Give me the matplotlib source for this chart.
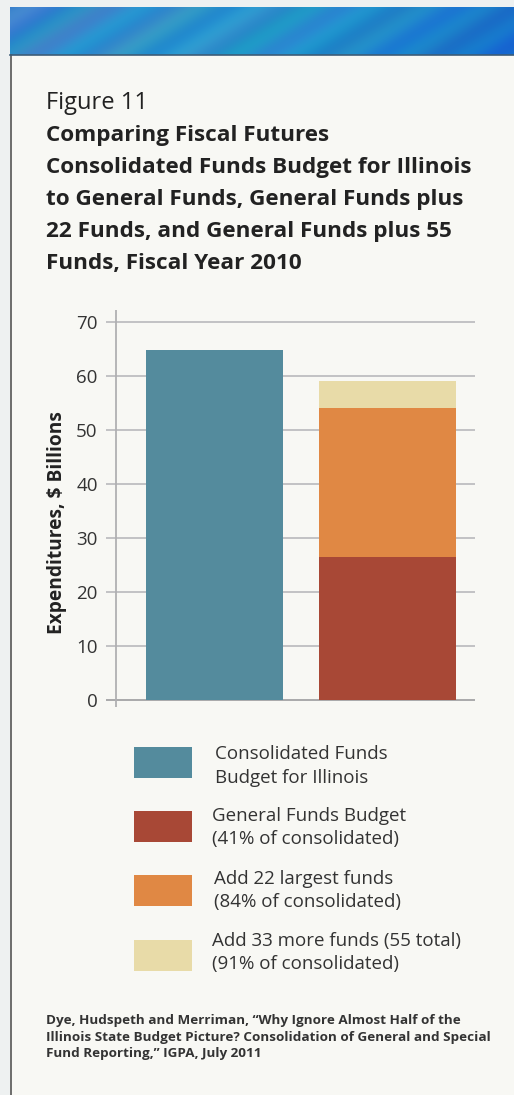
import numpy as np
import matplotlib
matplotlib.use("Agg")
import matplotlib.pyplot as plt
from matplotlib.patches import Rectangle

plt.rcParams['font.family'] = ['Open Sans', 'DejaVu Sans']

# ---- data ----
bar_labels = ["Consolidated", "General plus funds"]
consolidated = [64.8]
general_funds = [26.5]
add_22 = [27.5]
add_33 = [5.0]
yticks = [0, 10, 20, 30, 40, 50, 60, 70]
legend_labels = ["Consolidated Funds\nBudget for Illinois",
                 "General Funds Budget\n(41% of consolidated)",
                 "Add 22 largest funds\n(84% of consolidated)",
                 "Add 33 more funds (55 total)\n(91% of consolidated)"]
colors = ["#548b9d", "#a84836", "#e08844", "#e8dba8"]

W, H = 514, 1095
fig = plt.figure(figsize=(W / 100, H / 100), dpi=100)
fig.patch.set_facecolor("#eef1f1")

# background decoration axes in pixel coordinates
bg = fig.add_axes([0, 0, 1, 1])
bg.set_xlim(0, W)
bg.set_ylim(H, 0)
bg.axis("off")
# panel
bg.add_patch(Rectangle((10, 55), W - 10, H - 55, facecolor="#f8f8f4", edgecolor="none"))
bg.plot([10.5, 10.5], [55, H], color="#555555", lw=1.2)
# banner gradient with diagonal streaks
nx, ny = 512, 50
xx, yy = np.meshgrid(np.linspace(0, 1, nx), np.linspace(0, 1, ny))
t = xx + 0.15 * yy
base = np.stack([
    0.22 - 0.12 * t + 0.05 * np.sin(40 * t) * (1 - xx),
    0.50 + 0.08 * np.sin(3.0 * t) - 0.06 * xx ** 3 + 0.03 * np.sin(55 * t),
    0.80 + 0.02 * np.sin(30 * t)], axis=-1)
base = np.clip(base, 0, 1)
bg.imshow(base, extent=(10, W, 55, 7), aspect="auto", interpolation="bilinear", zorder=1)
bg.plot([10, W], [55, 55], color="#3d5d78", lw=1.2, zorder=2)
bg.set_xlim(0, W)
bg.set_ylim(H, 0)

# titles
bg.text(46, 103, "Figure 11", fontsize=17, color="#222222", va="center", ha="left")
title_lines = ["Comparing Fiscal Futures",
               "Consolidated Funds Budget for Illinois",
               "to General Funds, General Funds plus",
               "22 Funds, and General Funds plus 55",
               "Funds, Fiscal Year 2010"]
for i, line in enumerate(title_lines):
    bg.text(46, 136 + 32 * i, line, fontsize=16.2, fontweight="bold", color="#222222",
            va="center", ha="left")

# ---- chart axes ----
x_left_px, x_right_px = 106, 475
y_top_px, y_bot_px = 310, 707
ax = fig.add_axes([x_left_px / W, 1 - y_bot_px / H,
                   (x_right_px - x_left_px) / W, (y_bot_px - y_top_px) / H])
ax.set_facecolor("none")
ax.set_xlim(-0.629, 1.51)
ax.set_ylim(-1.3, 72.2)
for s in ax.spines.values():
    s.set_visible(False)
for v in yticks:
    ax.axhline(v, color="#a9a9ab" if v == 0 else "#c2c2c4", lw=1.4, zorder=1)
ax.axvline(-0.573, color="#b0b0b2", lw=1.3, zorder=1)
ax.set_xticks([])
ax.set_yticks(yticks)
ax.tick_params(axis="y", length=0, pad=6, labelsize=13.5, labelcolor="#333333")

w = 0.794
ax.bar([0], consolidated, width=w, color=colors[0], zorder=3)
ax.bar([1], general_funds, width=w, color=colors[1], zorder=3)
ax.bar([1], add_22, bottom=general_funds, width=w, color=colors[2], zorder=3)
ax.bar([1], add_33, bottom=[a + b for a, b in zip(general_funds, add_22)],
       width=w, color=colors[3], zorder=3)

# y label (placed to match reference position)
bg.text(57, 523, "Expenditures, $ Billions", fontsize=13.8, fontweight="bold",
        color="#222222", rotation=90, va="center", ha="center")

# ---- legend ----
patch_tops = [747, 811, 875, 940]
text_x = [215, 212, 214, 212]
text_y = [766, 827.5, 890.5, 952.5]
for i, (top, lab) in enumerate(zip(patch_tops, legend_labels)):
    bg.add_patch(Rectangle((134, top), 58, 31, facecolor=colors[i], edgecolor="none", zorder=3))
    bg.text(text_x[i], text_y[i], lab, fontsize=13.5, color="#333333", va="center",
            ha="left", linespacing=1.38, zorder=3)

# source
source = ("Dye, Hudspeth and Merriman, \u201cWhy Ignore Almost Half of the\n"
          "Illinois State Budget Picture? Consolidation of General and Special\n"
          "Fund Reporting,\u201d IGPA, July 2011")
bg.text(46, 1037, source, fontsize=9.7, fontweight="bold", color="#333333",
        va="center", ha="left", linespacing=1.38)

fig.savefig("out.png", dpi=100, facecolor=fig.get_facecolor())
